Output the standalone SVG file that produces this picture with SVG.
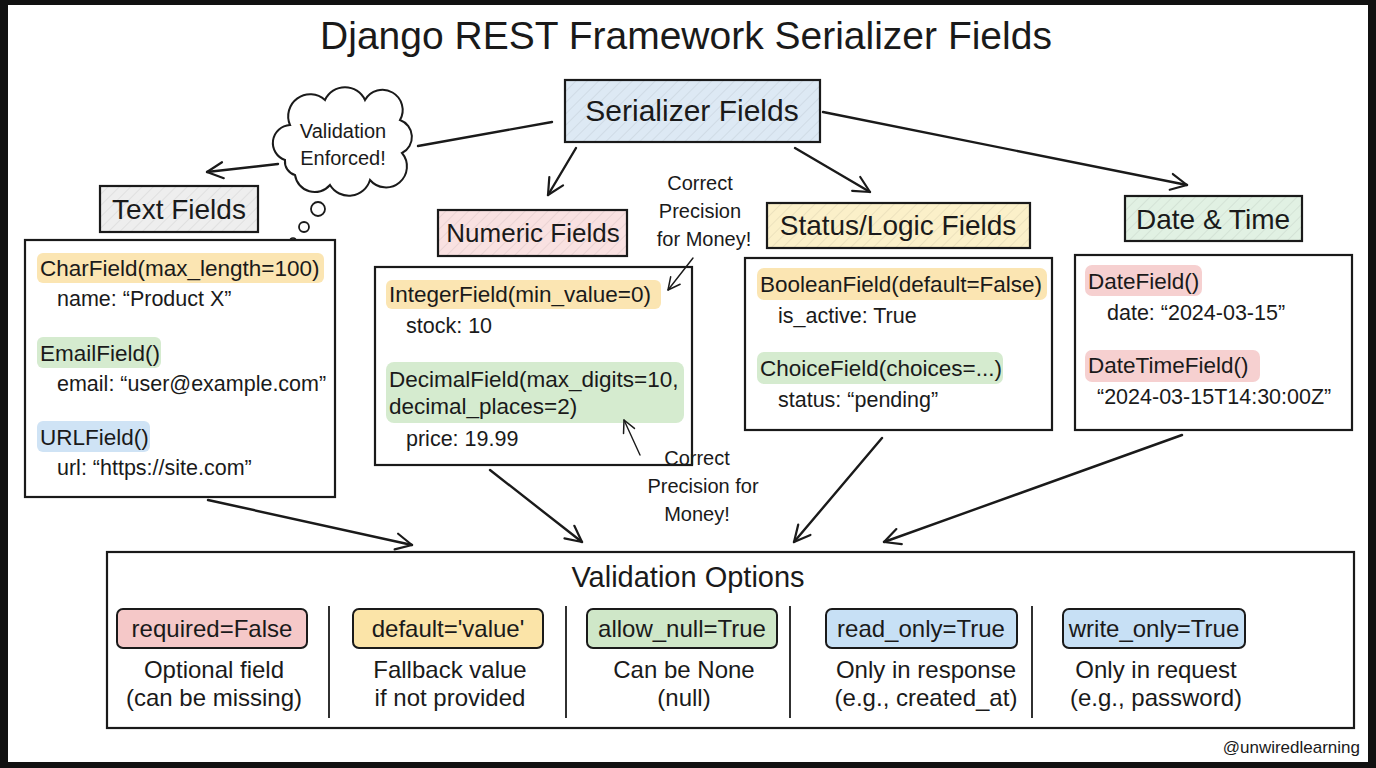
<svg xmlns="http://www.w3.org/2000/svg" width="1376" height="768" viewBox="0 0 1376 768">
<defs>
<style>
text{font-family:"Liberation Sans","DejaVu Sans",sans-serif;fill:#1a1a1a}
.title{font-size:39px;text-anchor:middle}
.lbl{font-size:28px;text-anchor:middle}
.code{font-size:22.5px}
.val{font-size:21.5px}
.note{font-size:20px;text-anchor:middle}
.pill{font-size:24px;text-anchor:middle}
.desc{font-size:24px;text-anchor:middle}
.box{fill:#fff;stroke:#1a1a1a;stroke-width:2.2}
.lab{stroke:#1a1a1a;stroke-width:2.2}
.conn{fill:none;stroke:#1a1a1a;stroke-width:2.4;stroke-linecap:round}
.thin{fill:none;stroke:#1a1a1a;stroke-width:1.4;stroke-linecap:round}
.sep{stroke:#1a1a1a;stroke-width:1.8}
</style>
<pattern id="hatch" width="8" height="8" patternUnits="userSpaceOnUse" patternTransform="rotate(45)">
<line x1="0" y1="0" x2="0" y2="8" stroke="#000" stroke-opacity="0.06" stroke-width="2"/>
</pattern>
<marker id="arr" viewBox="0 0 20 20" refX="18" refY="10" markerWidth="20" markerHeight="20" markerUnits="userSpaceOnUse" orient="auto">
<path d="M2 2 L18 10 L2 18" fill="none" stroke="#1a1a1a" stroke-width="2.2" stroke-linecap="round" stroke-linejoin="round"/>
</marker>
<marker id="arrs" viewBox="0 0 20 20" refX="18" refY="10" markerWidth="15" markerHeight="15" markerUnits="userSpaceOnUse" orient="auto">
<path d="M2 2 L18 10 L2 18" fill="none" stroke="#1a1a1a" stroke-width="2" stroke-linecap="round" stroke-linejoin="round"/>
</marker>
</defs>

<rect x="0" y="0" width="1376" height="768" fill="#111"/>
<rect x="8" y="5" width="1360" height="757" fill="#fff"/>

<text class="title" x="686" y="49">Django REST Framework Serializer Fields</text>

<g id="root">
<rect class="lab" x="565" y="80" width="255" height="62" fill="#dde9f4"/>
<rect x="565" y="80" width="255" height="62" fill="url(#hatch)"/>
<text class="lbl" x="692" y="121" style="font-size:30px">Serializer Fields</text>
</g>

<g id="cloud">
<path d="M285 160 a18 18 0 0 1 5 -35 a22 22 0 0 1 35 -25 a22 22 0 0 1 40 0 a20 20 0 0 1 35 20 a18 18 0 0 1 2 33 a20 20 0 0 1 -32 27 a22 22 0 0 1 -40 5 a20 20 0 0 1 -35 -10 a14 14 0 0 1 -10 -15 Z" fill="#fff" stroke="#1a1a1a" stroke-width="2"/>
<text class="note" x="343" y="138">Validation</text>
<text class="note" x="343" y="165">Enforced!</text>
<circle cx="318" cy="209" r="7" fill="#fff" stroke="#1a1a1a" stroke-width="1.8"/>
<circle cx="304" cy="227" r="5" fill="#fff" stroke="#1a1a1a" stroke-width="1.8"/>
<circle cx="293" cy="241" r="3" fill="#fff" stroke="#1a1a1a" stroke-width="1.6"/>
</g>

<g id="text-fields">
<rect class="lab" x="100" y="186" width="158" height="46" fill="#eeeeee"/>
<rect x="100" y="186" width="158" height="46" fill="url(#hatch)"/>
<text class="lbl" x="179" y="219">Text Fields</text>
<rect class="box" x="25" y="240" width="310" height="257"/>
<rect x="37" y="253" width="287" height="30" rx="6" fill="#fbe5b2"/>
<text class="code" x="40" y="276">CharField(max_length=100)</text>
<text class="val" x="57" y="306">name: “Product X”</text>
<rect x="37" y="337" width="124" height="31" rx="6" fill="#d5ebcf"/>
<text class="code" x="40" y="361">EmailField()</text>
<text class="val" x="57" y="391">email: “user@example.com”</text>
<rect x="37" y="421" width="113" height="31" rx="6" fill="#cfe3f5"/>
<text class="code" x="40" y="445">URLField()</text>
<text class="val" x="57" y="475">url: “https://site.com”</text>
</g>

<g id="numeric-fields">
<rect class="lab" x="438" y="210" width="189" height="46" fill="#f9e1e1"/>
<rect x="438" y="210" width="189" height="46" fill="url(#hatch)"/>
<text class="lbl" x="533" y="242" style="font-size:26px">Numeric Fields</text>
<rect class="box" x="375" y="267" width="317" height="198"/>
<rect x="386" y="280" width="275" height="29" rx="6" fill="#fbe5b2"/>
<text class="code" x="389" y="302">IntegerField(min_value=0)</text>
<text class="val" x="406" y="333">stock: 10</text>
<rect x="386" y="362" width="298" height="61" rx="8" fill="#d5ebcf"/>
<text class="code" x="389" y="387">DecimalField(max_digits=10,</text>
<text class="code" x="389" y="414">decimal_places=2)</text>
<text class="val" x="406" y="446">price: 19.99</text>
</g>

<g id="note-top">
<text class="note" x="700" y="190">Correct</text>
<text class="note" x="700" y="218">Precision</text>
<text class="note" x="704" y="246">for Money!</text>
</g>

<g id="note-bottom">
<text class="note" x="697" y="465">Correct</text>
<text class="note" x="703" y="493">Precision for</text>
<text class="note" x="697" y="521">Money!</text>
</g>

<g id="status-fields">
<rect class="lab" x="767" y="203" width="263" height="45" fill="#fbf0c9"/>
<rect x="767" y="203" width="263" height="45" fill="url(#hatch)"/>
<text class="lbl" x="898" y="235">Status/Logic Fields</text>
<rect class="box" x="745" y="258" width="307" height="172"/>
<rect x="757" y="268" width="290" height="32" rx="7" fill="#fbe5b2"/>
<text class="code" x="760" y="292">BooleanField(default=False)</text>
<text class="val" x="778" y="323">is_active: True</text>
<rect x="757" y="352" width="246" height="32" rx="7" fill="#d5ebcf"/>
<text class="code" x="760" y="376">ChoiceField(choices=...)</text>
<text class="val" x="778" y="407">status: “pending”</text>
</g>

<g id="date-time">
<rect class="lab" x="1125" y="196" width="177" height="45" fill="#e1f1e3"/>
<rect x="1125" y="196" width="177" height="45" fill="url(#hatch)"/>
<text class="lbl" x="1213" y="229">Date &amp; Time</text>
<rect class="box" x="1075" y="255" width="277" height="175"/>
<rect x="1085" y="265" width="117" height="31" rx="7" fill="#f6d0d0"/>
<text class="code" x="1088" y="289">DateField()</text>
<text class="val" x="1107" y="320">date: “2024-03-15”</text>
<rect x="1085" y="350" width="175" height="32" rx="7" fill="#f6d0d0"/>
<text class="code" x="1088" y="373">DateTimeField()</text>
<text class="val" x="1097" y="404">“2024-03-15T14:30:00Z”</text>
</g>

<g id="validation-options">
<rect class="box" x="107" y="552" width="1247" height="176"/>
<text class="lbl" x="688" y="587" style="font-size:29px">Validation Options</text>
<line class="sep" x1="329" y1="606" x2="329" y2="718"/>
<line class="sep" x1="566" y1="606" x2="566" y2="718"/>
<line class="sep" x1="790" y1="606" x2="790" y2="718"/>
<line class="sep" x1="1032" y1="606" x2="1032" y2="718"/>
<g id="opt-required">
<rect x="117" y="609" width="190" height="39" rx="6" fill="#f5c8c8" stroke="#1a1a1a" stroke-width="2"/>
<text class="pill" x="212" y="637">required=False</text>
<text class="desc" x="214" y="678">Optional field</text>
<text class="desc" x="214" y="706">(can be missing)</text>
</g>
<g id="opt-default">
<rect x="353" y="609" width="190" height="39" rx="6" fill="#fbe4a8" stroke="#1a1a1a" stroke-width="2"/>
<text class="pill" x="448" y="637">default='value'</text>
<text class="desc" x="450" y="678">Fallback value</text>
<text class="desc" x="450" y="706">if not provided</text>
</g>
<g id="opt-null">
<rect x="587" y="609" width="190" height="39" rx="6" fill="#cfe7c8" stroke="#1a1a1a" stroke-width="2"/>
<text class="pill" x="682" y="637">allow_null=True</text>
<text class="desc" x="684" y="678">Can be None</text>
<text class="desc" x="684" y="706">(null)</text>
</g>
<g id="opt-read">
<rect x="826" y="609" width="191" height="39" rx="6" fill="#c7e0f5" stroke="#1a1a1a" stroke-width="2"/>
<text class="pill" x="921" y="637">read_only=True</text>
<text class="desc" x="926" y="678">Only in response</text>
<text class="desc" x="926" y="706">(e.g., created_at)</text>
</g>
<g id="opt-write">
<rect x="1063" y="609" width="182" height="39" rx="6" fill="#c7e0f5" stroke="#1a1a1a" stroke-width="2"/>
<text class="pill" x="1154" y="637">write_only=True</text>
<text class="desc" x="1156" y="678">Only in request</text>
<text class="desc" x="1156" y="706">(e.g., password)</text>
</g>
</g>

<g id="connectors">
<path class="conn" d="M552 122 L418 146"/>
<path class="conn" d="M278 164 L207 172" marker-end="url(#arr)"/>
<path class="conn" d="M576 148 L548 195" marker-end="url(#arr)"/>
<path class="conn" d="M795 148 L870 192" marker-end="url(#arr)"/>
<path class="conn" d="M823 112 L1187 185" marker-end="url(#arr)"/>
<path class="conn" d="M208 500 L412 545" marker-end="url(#arr)"/>
<path class="conn" d="M490 470 L582 542" marker-end="url(#arr)"/>
<path class="conn" d="M882 438 L794 542" marker-end="url(#arr)"/>
<path class="conn" d="M1182 435 L884 542" marker-end="url(#arr)"/>
<path class="thin" d="M693 258 L668 290" marker-end="url(#arrs)"/>
<path class="thin" d="M640 455 L624 420" marker-end="url(#arrs)"/>
</g>

<text x="1360" y="753" style="font-size:17px;text-anchor:end">@unwiredlearning</text>
</svg>
